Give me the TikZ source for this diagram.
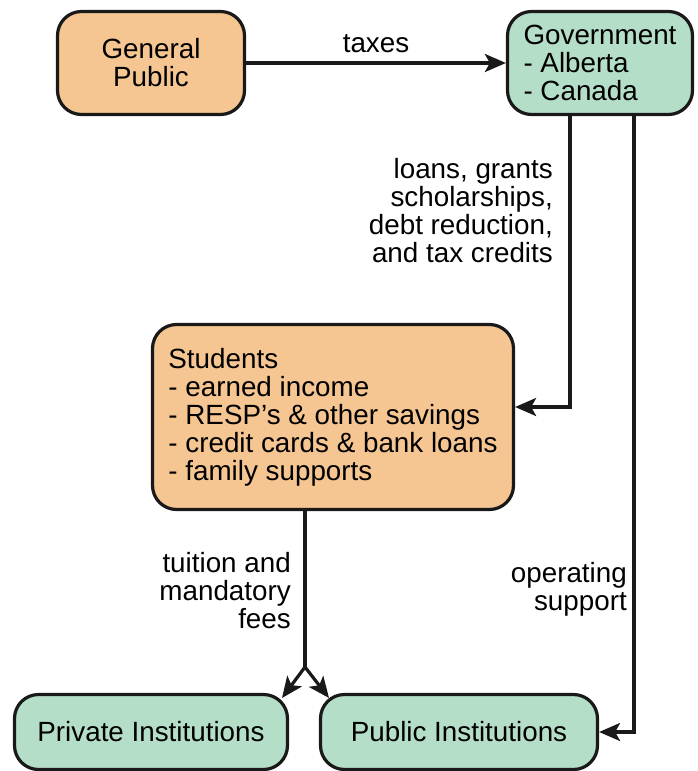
\documentclass[tikz,border=0pt]{standalone}
\usepackage{fontspec}
\setmainfont{Liberation Sans}
\usetikzlibrary{arrows.meta}

\definecolor{boxorange}{HTML}{F5C592}
\definecolor{boxgreen}{HTML}{B5DEC8}

\tikzset{
  box/.style={draw=black!90, line width=3.2pt, rounded corners=24pt, inner sep=0pt},
  payer/.style={box, fill=boxorange},
  receiver/.style={box, fill=boxgreen},
  flow/.style={line width=3.2pt, draw=black!90, -{Stealth[length=21pt,width=18pt,inset=5pt]}},
  lbl/.style={inner sep=0pt}
}

\begin{document}
\begin{tikzpicture}[x=1pt, y=-1pt, font=\fontsize{27.8}{28}\selectfont]
  \useasboundingbox (0,0) rectangle (698,771);

  \node[payer, minimum width=187pt, minimum height=103pt, align=center] (public) at (151,63) {General\\Public};
  \node[receiver, minimum width=185pt, minimum height=103pt, align=left] (gov) at (600,63) {Government\\- Alberta\\- Canada};
  \node[payer, minimum width=361pt, minimum height=185pt, align=left] (students) at (333,417) {Students\\- earned income\\- RESP's \& other savings\\- credit cards \& bank loans\\- family supports};
  \node[receiver, minimum width=273pt, minimum height=75pt] (private) at (151,732) {Private Institutions};
  \node[receiver, minimum width=277pt, minimum height=75pt] (publicinst) at (459,732) {Public Institutions};

  \draw[flow] (public) -- (gov) node[lbl, midway, above=9pt] {taxes};

  \coordinate (aidrow) at (0,407);
  \draw[flow] (gov.south -| 570,0) |- (students.east |- aidrow);
  \node[lbl, anchor=east, align=right] (aidlbl) at (553,211) {loans, grants\\scholarships,\\debt reduction,\\and tax credits};

  \draw[flow] (gov.south -| 634,0) |- (publicinst.east);
  \node[lbl, anchor=east, align=right] (oplbl) at (627,589) {operating\\support};

  \coordinate (split) at (305,667);
  \coordinate (privtip) at (282,698);
  \coordinate (pubtip) at (329,698);
  \draw[line width=3.2pt, draw=black!90] (students.south -| split) -- (split);
  \draw[flow] (split) -- (privtip);
  \draw[flow] (split) -- (pubtip);
  \node[lbl, anchor=east, align=right] (feelbl) at (291,591) {tuition and\\mandatory\\fees};
\end{tikzpicture}
\end{document}
